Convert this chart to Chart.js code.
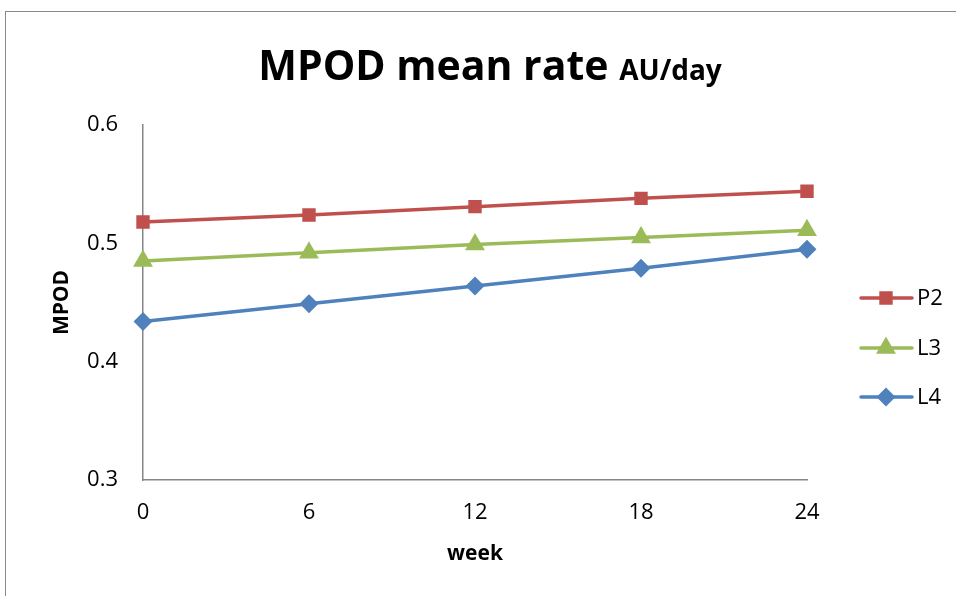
<!DOCTYPE html>
<html>
<head>
<meta charset="utf-8">
<script src="https://cdn.jsdelivr.net/npm/chart.js@4.4.1/dist/chart.umd.min.js"></script>
<style>
  html, body { margin: 0; padding: 0; background: #ffffff; }
  #wrap { width: 956px; height: 596px; }
</style>
</head>
<body>
<div id="wrap"><canvas id="c" width="956" height="596"></canvas></div>
<script>
// Week of measurement
const weeks = ['0', '6', '12', '18', '24'];
// Mean MPOD per group
const p2 = [0.518, 0.524, 0.531, 0.538, 0.544];
const l3 = [0.485, 0.492, 0.499, 0.505, 0.511];
const l4 = [0.434, 0.449, 0.464, 0.479, 0.495];
const yTicks = [0.3, 0.4, 0.5, 0.6];

const FONT = '"Open Sans", "Liberation Sans", sans-serif';
const COLORS = { p2: '#C0504D', l3: '#9BBB59', l4: '#4F81BD' };

// Frame around the whole chart
const framePlugin = {
  id: 'frame',
  beforeDraw(chart) {
    const ctx = chart.ctx;
    ctx.save();
    ctx.strokeStyle = '#8a8a8a';
    ctx.lineWidth = 1;
    ctx.strokeRect(5.5, 11.5, 1000, 1000);
    ctx.restore();
  }
};

// Two-size title: "MPOD mean rate" followed by smaller "AU/day"
const titlePlugin = {
  id: 'mixedTitle',
  afterDraw(chart) {
    const ctx = chart.ctx;
    ctx.save();
    ctx.fillStyle = '#000000';
    ctx.textBaseline = 'alphabetic';
    const big = 'bold 41px ' + FONT;
    const small = 'bold 28px ' + FONT;
    const t1 = 'MPOD mean rate ';
    const t2 = 'AU/day';
    ctx.font = big; const w1 = ctx.measureText(t1).width;
    ctx.font = small; const w2 = ctx.measureText(t2).width;
    const cx = 490;
    const x0 = cx - (w1 + w2) / 2;
    const base = 80;
    ctx.font = big; ctx.textAlign = 'left'; ctx.fillText(t1, x0, base);
    ctx.font = small; ctx.fillText(t2, x0 + w1, base);
    ctx.restore();
  }
};

// Legend at the right: line segment with the series marker, then label
const legendPlugin = {
  id: 'sideLegend',
  afterDraw(chart) {
    const ctx = chart.ctx;
    const rows = [298, 348, 397];
    ctx.save();
    chart.data.datasets.forEach((ds, i) => {
      const y = rows[i];
      ctx.strokeStyle = ds.borderColor;
      ctx.lineWidth = 3.5;
      ctx.lineCap = 'round';
      ctx.beginPath(); ctx.moveTo(861, y); ctx.lineTo(912, y); ctx.stroke();
      ctx.fillStyle = ds.borderColor;
      ctx.strokeStyle = ds.borderColor;
      ctx.beginPath();
      Chart.helpers.drawPoint(ctx, {
        pointStyle: ds.pointStyle, radius: ds.pointRadius, borderWidth: 1, rotation: 0
      }, 886, y);
      ctx.fillStyle = '#000000';
      ctx.font = '22px ' + FONT;
      ctx.textAlign = 'left';
      ctx.textBaseline = 'middle';
      ctx.fillText(ds.label, 917, y + 1);
    });
    ctx.restore();
  }
};

const series = [
  { label: 'P2', data: p2, color: COLORS.p2, style: 'rect', r: 7 },
  { label: 'L3', data: l3, color: COLORS.l3, style: 'triangle', r: 8 },
  { label: 'L4', data: l4, color: COLORS.l4, style: 'rectRot', r: 7 }
];

new Chart(document.getElementById('c'), {
  type: 'line',
  data: {
    labels: weeks,
    datasets: series.map(s => ({
      label: s.label,
      data: s.data,
      borderColor: s.color,
      backgroundColor: s.color,
      pointBackgroundColor: s.color,
      pointBorderColor: s.color,
      pointStyle: s.style,
      pointRadius: s.r,
      pointHoverRadius: s.r,
      borderWidth: 3.5,
      tension: 0,
      fill: false
    }))
  },
  options: {
    responsive: false,
    animation: false,
    devicePixelRatio: 1,
    layout: { padding: { left: 0, top: 125, right: 149, bottom: 0 } },
    plugins: { legend: { display: false }, title: { display: false }, tooltip: { enabled: false } },
    scales: {
      x: {
        type: 'category',
        offset: false,
        grid: { display: false, drawTicks: false },
        border: { display: true, color: '#868686', width: 1.5 },
        ticks: { color: '#000000', font: { family: FONT, size: 22 }, padding: 20, maxRotation: 0, autoSkip: false },
        title: { display: true, text: 'week', color: '#000000', font: { family: FONT, size: 21, weight: 'bold' }, padding: { top: 0, bottom: 29 } },
        afterFit(scale) { scale.height = 116; }
      },
      y: {
        min: 0.3, max: 0.6,
        afterBuildTicks(scale) { scale.ticks = yTicks.map(v => ({ value: v })); },
        grid: { display: false, drawTicks: false },
        border: { display: true, color: '#868686', width: 1.5 },
        ticks: { color: '#000000', font: { family: FONT, size: 22 }, padding: 25, callback: v => String(v) },
        title: { display: true, text: 'MPOD', color: '#000000', font: { family: FONT, size: 21, weight: 'bold' }, padding: { top: 49, bottom: 0 } },
        afterFit(scale) { scale.width = 143; }
      }
    }
  },
  plugins: [framePlugin, titlePlugin, legendPlugin]
});
</script>
</body>
</html>
